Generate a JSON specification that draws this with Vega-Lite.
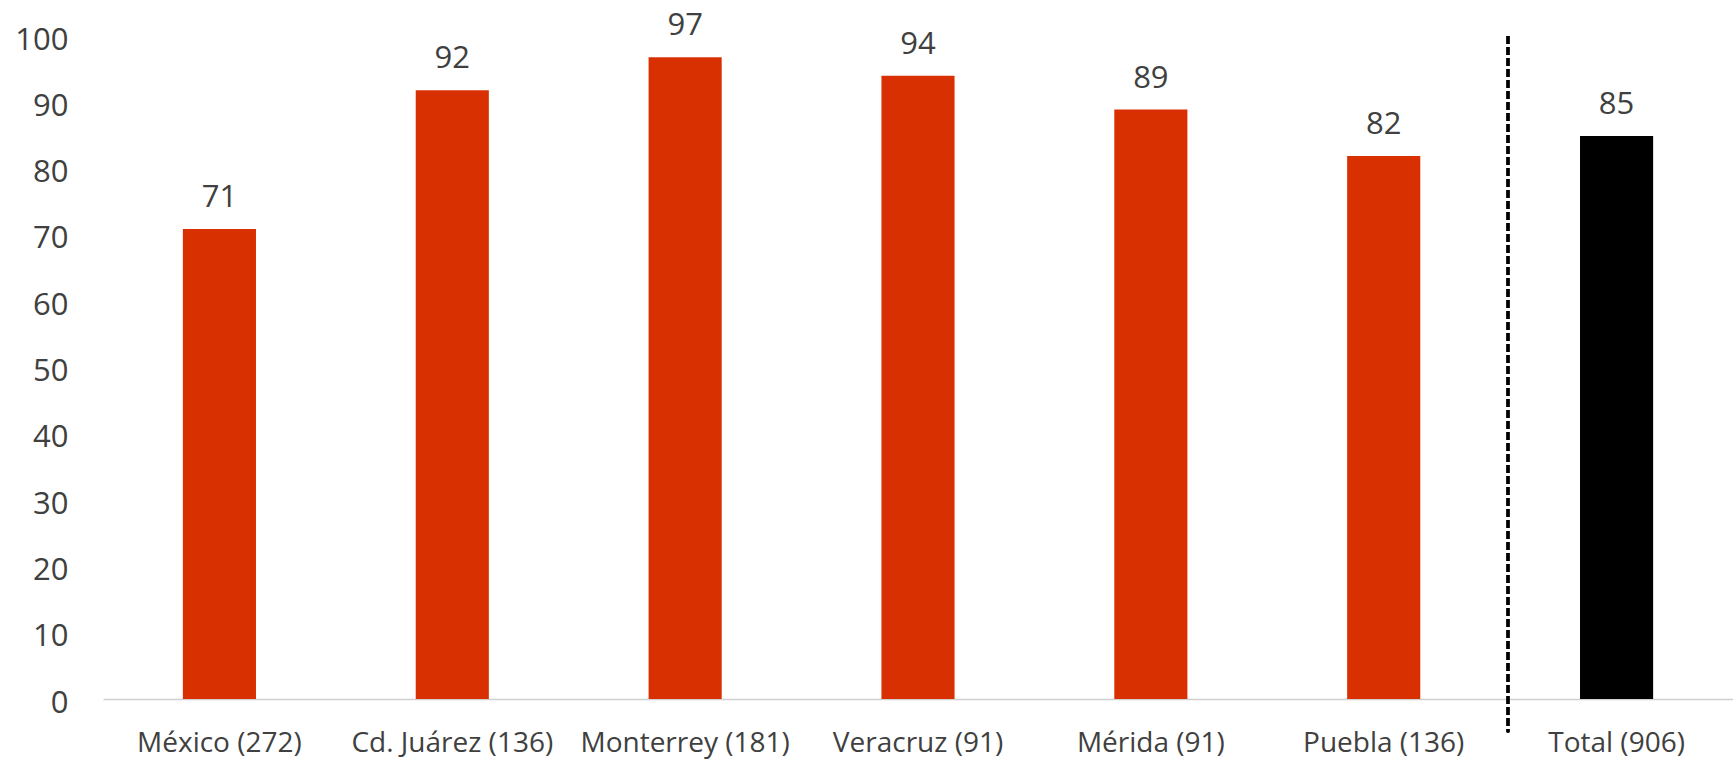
{
  "$schema": "https://vega.github.io/schema/vega-lite/v6.json",
  "autosize": {"type": "none"},
  "width": 1630,
  "height": 663,
  "padding": {"left": 103, "top": 36, "right": 0, "bottom": 60},
  "background": "white",
  "config": {
    "view": {"stroke": null},
    "font": "Open Sans"
  },
  "data": {
    "values": [
      {"ciudad": "México (272)", "valor": 70.9, "tipo": "Ciudad"},
      {"ciudad": "Cd. Juárez (136)", "valor": 91.8, "tipo": "Ciudad"},
      {"ciudad": "Monterrey (181)", "valor": 96.8, "tipo": "Ciudad"},
      {"ciudad": "Veracruz (91)", "valor": 94.0, "tipo": "Ciudad"},
      {"ciudad": "Mérida (91)", "valor": 88.9, "tipo": "Ciudad"},
      {"ciudad": "Puebla (136)", "valor": 81.9, "tipo": "Ciudad"},
      {"ciudad": "Total (906)", "valor": 84.9, "tipo": "Total"}
    ]
  },
  "encoding": {
    "x": {
      "field": "ciudad",
      "type": "nominal",
      "sort": null,
      "scale": {"paddingInner": 0.686, "paddingOuter": 0.343},
      "axis": {
        "title": null,
        "labelAngle": 0,
        "labelFont": "Open Sans",
        "labelFontSize": 28,
        "labelColor": "#404040",
        "labelPadding": 30,
        "labelLimit": 0,
        "ticks": false,
        "domainColor": "#D0D0D0",
        "domainWidth": 1.5,
        "grid": false
      }
    }
  },
  "layer": [
    {
      "mark": {"type": "bar"},
      "encoding": {
        "y": {
          "field": "valor",
          "type": "quantitative",
          "scale": {"domain": [0, 100], "nice": false},
          "axis": {
            "title": null,
            "values": [0, 10, 20, 30, 40, 50, 60, 70, 80, 90, 100],
            "domain": false,
            "ticks": false,
            "grid": false,
            "labelFont": "Open Sans",
            "labelFontSize": 31,
            "labelColor": "#404040",
            "labelPadding": 35,
            "labelBaseline": "middle",
            "labelOffset": 4
          }
        },
        "color": {
          "field": "tipo",
          "type": "nominal",
          "scale": {"domain": ["Ciudad", "Total"], "range": ["#D83000", "#000000"]},
          "legend": null
        }
      }
    },
    {
      "mark": {"type": "text", "baseline": "alphabetic", "dy": -22, "font": "Open Sans", "fontSize": 31, "color": "#404040"},
      "encoding": {
        "y": {"field": "valor", "type": "quantitative"},
        "text": {"field": "valor", "type": "quantitative", "format": ".0f"}
      }
    },
    {
      "mark": {"type": "rule", "color": "#000000", "strokeWidth": 2.5, "strokeDash": [8, 3], "clip": false},
      "encoding": {
        "x": {"datum": "Total (906)", "bandPosition": -0.985},
        "y": {"datum": 100},
        "y2": {"datum": -5}
      }
    }
  ]
}
